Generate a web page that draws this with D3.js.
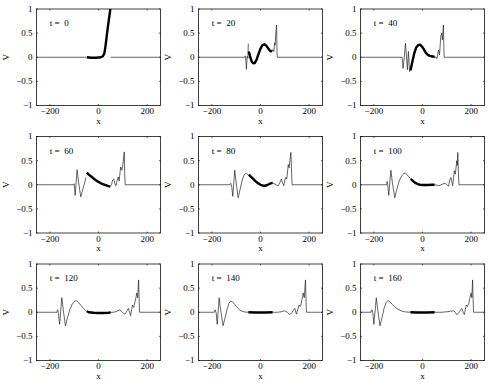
<!DOCTYPE html>
<html>
<head>
<meta charset="utf-8">
<script src="https://cdn.jsdelivr.net/npm/d3@7"></script>
<style>
  body { margin: 0; background: #fff; }
</style>
</head>
<body>
<svg id="chart" width="488" height="388" font-family="'Liberation Serif', 'Times New Roman', 'DejaVu Serif', serif" font-size="9"></svg>
<script>
// snapshot times, one panel each
const times = [0, 20, 40, 60, 80, 100, 120, 140, 160];

// thin curve left of the thick section, [x, V]
const thinLeft = [
    [[-255,0],[-50,0]],
    [[-255,0],[-66,0],[-63,0.03],[-60,-0.08],[-58,-0.25],[-55,0.02],[-52,-0.02],[-50,0.28]],
    [[-255,0],[-84,0],[-80,-0.23],[-75,0.0],[-70,0.29],[-62,-0.26],[-58,0.12],[-53,-0.3],[-50,-0.25]],
    [[-255,0],[-104,0],[-100,0.02],[-96,-0.22],[-88,0.31],[-82,0.05],[-73,-0.25],[-62,-0.05],[-51,0.15]],
    [[-255,0],[-126,0],[-122,0.03],[-118,-0.05],[-114,-0.24],[-106,0.3],[-100,0.05],[-92,-0.27],[-84,-0.1],[-76,0.08],[-68,0.2],[-61,0.24],[-55,0.22],[-50,0.21]],
    [[-255,0],[-148,0],[-145,0.07],[-142,-0.05],[-139,-0.22],[-130,0.3],[-124,0.05],[-114,-0.27],[-106,-0.1],[-96,0.08],[-86,0.18],[-76,0.24],[-70,0.24],[-62,0.2],[-55,0.16],[-50,0.13]],
    [[-255,0],[-171,0],[-168,0.05],[-165,-0.02],[-160,-0.25],[-151,0.3],[-145,0.05],[-136,-0.28],[-128,-0.12],[-118,0.05],[-108,0.17],[-98,0.23],[-91,0.24],[-82,0.2],[-72,0.14],[-62,0.08],[-54,0.04],[-48,0.02]],
    [[-255,0],[-190,0],[-186,0.05],[-182,-0.02],[-178,-0.25],[-170,0.3],[-164,0.05],[-154,-0.28],[-146,-0.12],[-138,0.05],[-130,0.18],[-124,0.23],[-116,0.22],[-106,0.16],[-96,0.1],[-86,0.05],[-76,0.02],[-64,0.005],[-50,0]],
    [[-255,0],[-212,0],[-208,0.05],[-204,-0.02],[-200,-0.25],[-190,0.3],[-184,0.05],[-175,-0.28],[-167,-0.12],[-158,0.08],[-150,0.2],[-142,0.24],[-134,0.22],[-124,0.16],[-112,0.1],[-100,0.06],[-88,0.03],[-74,0.01],[-60,0.003],[-50,0]]
];

// thick curve on the middle section
const thick = [
    [[-48,0],[-30,-0.01],[-10,-0.01],[10,0],[18,0.02],[24,0.08],[28,0.2],[34,0.45],[40,0.68],[46,0.9],[50,1.05]],
    [[-48,0.12],[-42,0.0],[-36,-0.09],[-30,-0.125],[-24,-0.12],[-16,-0.05],[-8,0.07],[0,0.18],[8,0.25],[16,0.27],[24,0.24],[32,0.18],[40,0.13],[48,0.12]],
    [[-49,-0.27],[-42,-0.1],[-34,0.08],[-26,0.2],[-18,0.25],[-10,0.26],[-2,0.22],[6,0.16],[14,0.09],[22,0.05],[30,0.03],[38,0.02],[46,0.01],[50,0.01]],
    [[-48,0.25],[-40,0.21],[-30,0.17],[-20,0.13],[-10,0.09],[0,0.06],[10,0.03],[20,0.01],[30,-0.01],[40,-0.03],[48,-0.04]],
    [[-48,0.21],[-40,0.17],[-30,0.12],[-20,0.07],[-10,0.03],[0,0.0],[10,-0.02],[18,-0.02],[26,-0.01],[34,0.01],[42,0.03],[50,0.04]],
    [[-48,0.12],[-40,0.08],[-30,0.04],[-20,0.015],[-10,0.0],[0,-0.005],[20,-0.005],[40,0.0],[50,0.0]],
    [[-48,0.02],[-40,0.0],[-20,-0.01],[0,-0.015],[20,-0.015],[40,-0.01],[50,-0.005]],
    [[-50,0],[-20,-0.005],[20,-0.005],[50,0]],
    [[-50,0],[-20,-0.005],[20,-0.005],[50,0]]
];

// thin curve right of the thick section
const thinRight = [
    [[50,0],[255,0]],
    [[48,0.12],[52,0.16],[55,0.12],[58,0.3],[60,0.25],[63,0.5],[66,0.67],[68,0.1],[69,0],[255,0]],
    [[50,0.01],[56,0.0],[59,-0.03],[62,0.05],[66,0.15],[70,0.05],[75,0.43],[79,0.5],[82,0.36],[86,0.67],[88,0.2],[89,0],[255,0]],
    [[48,-0.04],[54,0.01],[58,0.1],[63,0.12],[68,0.0],[72,-0.02],[77,0.1],[81,0.16],[85,0.08],[91,0.37],[96,0.3],[101,0.45],[103,0.55],[106,0.68],[108,0.2],[110,0],[255,0]],
    [[50,0.04],[58,0.02],[66,-0.01],[73,-0.02],[80,0.05],[86,0.12],[91,0.03],[96,-0.02],[100,0.1],[104,0.15],[108,0.12],[110,0.2],[114,0.42],[118,0.35],[122,0.55],[125,0.67],[128,0.25],[130,0],[255,0]],
    [[50,0.0],[60,-0.01],[68,-0.02],[80,0.01],[93,0.03],[100,0.0],[107,-0.03],[112,0.1],[117,0.15],[121,0.05],[124,-0.02],[128,0.15],[131,0.29],[135,0.22],[141,0.5],[143,0.4],[145,0.67],[148,0.2],[150,0],[255,0]],
    [[50,-0.005],[60,0.0],[70,0.01],[80,0.03],[88,0.05],[96,0.01],[104,-0.03],[109,-0.04],[116,0.02],[123,0.08],[128,0.0],[132,-0.07],[136,0.05],[140,0.15],[145,0.1],[150,0.22],[154,0.3],[157,0.4],[161,0.3],[165,0.67],[167,0.3],[169,0],[255,0]],
    [[50,0],[70,0.0],[85,0.01],[100,0.03],[110,0.0],[121,-0.05],[130,0.0],[136,0.05],[141,0.08],[145,0.0],[148,-0.04],[153,0.05],[159,0.15],[165,0.12],[170,0.25],[176,0.4],[180,0.3],[185,0.67],[187,0.3],[189,0],[255,0]],
    [[50,0],[80,0.0],[100,0.01],[115,0.02],[128,0.03],[135,0.0],[141,-0.05],[150,-0.01],[157,0.05],[162,0.08],[167,0.0],[172,-0.05],[176,0.05],[180,0.15],[185,0.12],[190,0.18],[195,0.3],[200,0.4],[203,0.3],[206,0.67],[208,0.3],[210,0],[255,0]]
];

const xTicks = [-200, 0, 200];
const yTicks = [-1, -0.5, 0, 0.5, 1];

const fmt = v => (v < 0 ? "\u2212" : "") + Math.abs(v);

const svg = d3.select("#chart");
const panelW = 124, panelH = 96.5;

times.forEach((t, i) => {
    const col = i % 3, row = Math.floor(i / 3);
    const left = 36.5 + col * 162;
    const top = 9 + row * 127.5;

    const x = d3.scaleLinear().domain([-255, 255]).range([0, panelW]);
    const y = d3.scaleLinear().domain([-1, 1]).range([panelH, 0]);

    const g = svg.append("g").attr("transform", `translate(${left},${top})`);

    g.append("clipPath").attr("id", "clip" + i)
        .append("rect").attr("width", panelW).attr("height", panelH);

    // ticks on all four sides, pointing in
    g.selectAll(".xt").data(xTicks).join("path").attr("class", "xt")
        .attr("stroke", "#000").attr("stroke-width", 0.6)
        .attr("d", d => `M${x(d)},${panelH}v-1.5M${x(d)},0v1.5`);
    g.selectAll(".yt").data(yTicks).join("path").attr("class", "yt")
        .attr("stroke", "#000").attr("stroke-width", 0.6)
        .attr("d", d => `M0,${y(d)}h1.5M${panelW},${y(d)}h-1.5`);

    g.selectAll(".xl").data(xTicks).join("text").attr("class", "xl")
        .attr("x", d => x(d)).attr("y", panelH + 8.5)
        .attr("text-anchor", "middle").text(fmt);
    g.selectAll(".yl").data(yTicks).join("text").attr("class", "yl")
        .attr("x", -4).attr("y", d => y(d)).attr("dy", "0.33em")
        .attr("text-anchor", "end").text(fmt);

    g.append("text").attr("x", panelW / 2).attr("y", panelH + 18)
        .attr("text-anchor", "middle").text("x");
    g.append("text").attr("transform", `translate(-31,${panelH / 2}) rotate(-90)`)
        .attr("text-anchor", "middle").attr("dy", "0.35em").text("V");

    const line = d3.line().x(d => x(d[0])).y(d => y(d[1]));
    const plot = g.append("g").attr("clip-path", `url(#clip${i})`);

    plot.selectAll(".thin").data([thinLeft[i], thinRight[i]]).join("path").attr("class", "thin")
        .attr("fill", "none").attr("stroke", "#222").attr("stroke-width", 0.7)
        .attr("d", line);
    plot.append("path").datum(thick[i])
        .attr("fill", "none").attr("stroke", "#000").attr("stroke-width", 2.4)
        .attr("stroke-linejoin", "round").attr("d", line);

    g.append("text").attr("x", x(-200)).attr("y", y(0.71)).attr("dy", "0.35em")
        .attr("xml:space", "preserve").style("white-space", "pre").text("t =  " + t);

    g.append("rect").attr("width", panelW).attr("height", panelH)
        .attr("fill", "none").attr("stroke", "#000").attr("stroke-width", 0.75);
});
</script>
</body>
</html>
